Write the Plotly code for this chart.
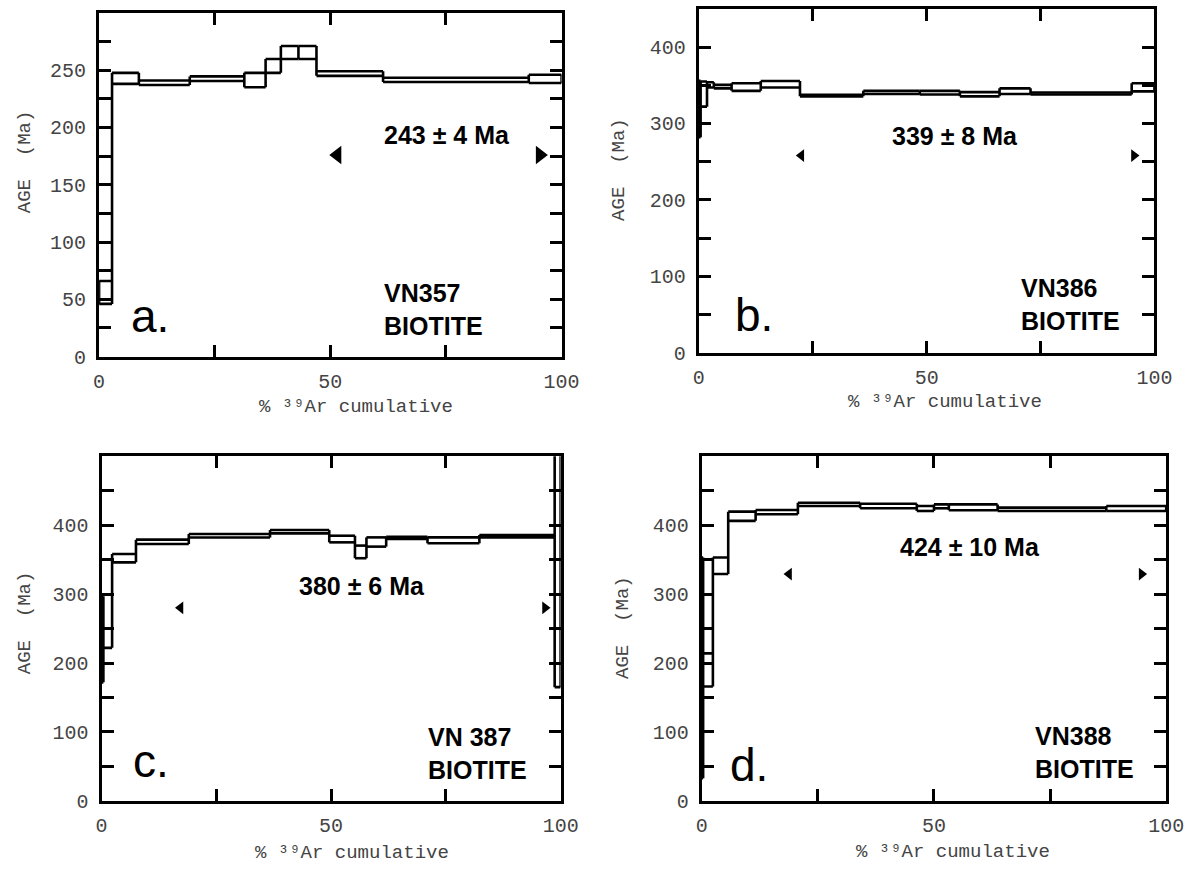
import plotly.graph_objects as go

W, H = 1195, 878

# ---------------- data ----------------
# cumulative %39Ar step boundaries, lower / upper age of each step (Ma)
bounds_a = [0, 2.8, 8.6, 19.6, 31.4, 36.0, 39.3, 43.1, 47.0, 61.4, 92.9, 100]
lo_a = [46, 238, 237, 240.5, 235, 247.6, 259.7, 259.7, 245, 239.6, 238.8]
hi_a = [66, 247.6, 241, 244.5, 247.6, 259.7, 271, 271, 249, 243.3, 246]

bounds_b = [0, 0.4, 1.8, 3.3, 7.2, 13.6, 22.2, 36.1, 48.5, 57.3, 66.0, 72.8, 95.0, 100]
lo_b = [282, 322, 347, 346, 342.7, 347, 335.5, 338.5, 338, 335.5, 338.5, 338, 342]
hi_b = [356, 355, 354, 350.5, 352.6, 355.6, 337.5, 342.7, 342.7, 341, 346, 340.5, 352.6]

bounds_c = [0, 0.4, 2.3, 7.5, 19.0, 36.7, 49.6, 55.2, 57.7, 62.0, 71.0, 82.3, 98.7, 100]
lo_c = [172, 222, 346, 372.7, 382, 388, 375, 352, 368.8, 379.9, 373.6, 382.2, 165]
hi_c = [297, 250, 358, 378.9, 387, 392.8, 384.6, 370.3, 382.2, 383, 382.2, 385.6, 520]

bounds_d = [0, 0.3, 2.4, 5.7, 11.6, 20.7, 34.1, 46.3, 50.0, 53.2, 63.7, 87.1, 100]
lo_d = [33, 166, 329, 406.2, 415.8, 427.7, 424.4, 420.5, 424.4, 421.6, 420.5, 420.5]
hi_d = [353, 214, 353, 419.5, 422, 432.5, 431, 427.7, 430, 430, 425.4, 427.7]

# plateau limits (arrow positions) and plateau ages
plateau_x = {"a": [51.5, 95.3], "b": [22.5, 95.5], "c": [17.2, 96.6], "d": [18.8, 94.7]}
plateau_arrow_age = {"a": 176, "b": 258, "c": 280, "d": 329}
plateau_text = {"a": "243 ± 4 Ma", "b": "339 ± 8 Ma", "c": "380 ± 6 Ma", "d": "424 ± 10 Ma"}
sample_names = {"a": "VN357", "b": "VN386", "c": "VN 387", "d": "VN388"}
mineral = "BIOTITE"
panel_letters = {"a": "a.", "b": "b.", "c": "c.", "d": "d."}
x_title = "% ³⁹Ar cumulative"
y_title = "AGE  (Ma)"

x_tickvals = [0, 50, 100]
x_ticktext = ["0", "50", "100"]

# ---------------- layout helpers ----------------
def px(x):
    return x / W

def py(y):
    return 1 - y / H

panels = [
    dict(k="a", bounds=bounds_a, lo=lo_a, hi=hi_a, xr=(95, 567), yr=(13, 362), ymax=300, ystep=25, ylab=50,
         arrow=16, age_xy=(384, 137), name_xy=(384, 314), letter_xy=(126, 321),
         ytitle=(19, 164), xtitle=(357, 413)),
    dict(k="b", bounds=bounds_b, lo=lo_b, hi=hi_b, xr=(707, 1172), yr=(9, 358), ymax=450, ystep=50, ylab=100,
         arrow=11, age_xy=(902, 138), name_xy=(1034, 309), letter_xy=(742, 320),
         ytitle=(626, 172), xtitle=(958, 408)),
    dict(k="c", bounds=bounds_c, lo=lo_c, hi=hi_c, xr=(97.5, 566), yr=(463, 813), ymax=500, ystep=50, ylab=100,
         arrow=11, age_xy=(297, 595), name_xy=(429, 765), letter_xy=(128, 772),
         ytitle=(19, 632), xtitle=(353, 866)),
    dict(k="d", bounds=bounds_d, lo=lo_d, hi=hi_d, xr=(710, 1184), yr=(463, 813), ymax=500, ystep=50, ylab=100,
         arrow=11, age_xy=(910, 555), name_xy=(1048, 764), letter_xy=(737, 776),
         ytitle=(629, 637), xtitle=(966, 865)),
]

def step_path(bounds, lo, hi):
    xs, ys = [], []
    n = len(lo)
    for i in range(n):
        xs += [bounds[i], bounds[i + 1], None, bounds[i], bounds[i + 1], None]
        ys += [hi[i], hi[i], None, lo[i], lo[i], None]
    for j in range(n + 1):
        adj = [i for i in (j - 1, j) if 0 <= i < n]
        ymin = min(lo[i] for i in adj)
        ymax = max(hi[i] for i in adj)
        xs += [bounds[j], bounds[j], None]
        ys += [ymin, ymax, None]
    return xs, ys

fig = go.Figure()
annotations = []
mono = "Liberation Mono, Courier New, DejaVu Sans Mono, monospace"
sans = "Liberation Sans, Arial, Helvetica, sans-serif"

for idx, p in enumerate(panels, start=1):
    sfx = "" if idx == 1 else str(idx)
    xa, ya = "x" + sfx, "y" + sfx
    xs, ys = step_path(p["bounds"], p["lo"], p["hi"])
    fig.add_trace(go.Scatter(x=xs, y=ys, mode="lines", xaxis=xa, yaxis=ya,
                             line=dict(color="black", width=2.6), hoverinfo="skip",
                             showlegend=False, cliponaxis=True))
    k = p["k"]
    fig.add_trace(go.Scatter(x=plateau_x[k], y=[plateau_arrow_age[k]] * 2, mode="markers",
                             xaxis=xa, yaxis=ya, showlegend=False, hoverinfo="skip",
                             marker=dict(symbol=["triangle-left", "triangle-right"],
                                         size=p["arrow"], color="black", line=dict(width=0))))

    ytv = list(range(0, p["ymax"], p["ylab"]))
    axis_common = dict(showline=True, linecolor="black", linewidth=3, mirror="allticks",
                       ticks="inside", ticklen=12, tickwidth=2.5, tickcolor="black",
                       showgrid=False, zeroline=False,
                       tickfont=dict(family=mono, size=20, color="#444"))
    fig.update_layout(**{
        "xaxis" + sfx: dict(range=[0, 100], domain=[px(p["xr"][0]), px(p["xr"][1])], anchor=ya,
                            tickvals=x_tickvals, ticktext=x_ticktext, ticklabelstandoff=4,
                            minor=dict(dtick=25, tick0=0, ticks="inside", ticklen=12, tickwidth=2.5,
                                       tickcolor="black", showgrid=False),
                            **axis_common),
        "yaxis" + sfx: dict(range=[0, p["ymax"]], domain=[py(p["yr"][1]), py(p["yr"][0])], anchor=xa,
                            tickvals=ytv, ticktext=[str(v) for v in ytv], ticklabelstandoff=6,
                            minor=dict(dtick=p["ystep"], tick0=0, ticks="inside", ticklen=12, tickwidth=2.5,
                                       tickcolor="black", showgrid=False),
                            **axis_common),
    })

    annotations.append(dict(text=plateau_text[k], x=px(p["age_xy"][0]), y=py(p["age_xy"][1]),
                            xref="paper", yref="paper", xanchor="left", yanchor="middle", showarrow=False,
                            font=dict(family=sans, size=25, color="black", weight="bold")))
    nx, ny = p["name_xy"]
    annotations.append(dict(text=f"{sample_names[k]}<br>{mineral}", x=px(nx), y=py(ny),
                            xref="paper", yref="paper", align="left",
                            xanchor="left", yanchor="middle", showarrow=False,
                            font=dict(family=sans, size=25, color="black", weight="bold")))
    annotations.append(dict(text=panel_letters[k], x=px(p["letter_xy"][0]), y=py(p["letter_xy"][1]),
                            xref="paper", yref="paper", xanchor="left", yanchor="middle", showarrow=False,
                            font=dict(family=sans, size=46, color="black")))
    annotations.append(dict(text=y_title, x=px(p["ytitle"][0]), y=py(p["ytitle"][1]), textangle=-90,
                            xref="paper", yref="paper", xanchor="center", yanchor="middle", showarrow=False,
                            font=dict(family=mono, size=19, color="#444")))
    annotations.append(dict(text=x_title, x=px(p["xtitle"][0]), y=py(p["xtitle"][1]),
                            xref="paper", yref="paper", xanchor="center", yanchor="middle", showarrow=False,
                            font=dict(family=mono, size=19, color="#444")))

fig.update_layout(width=W, height=H, margin=dict(l=0, r=0, t=0, b=0),
                  paper_bgcolor="white", plot_bgcolor="white", annotations=annotations, showlegend=False)

fig.write_html("out.html")
